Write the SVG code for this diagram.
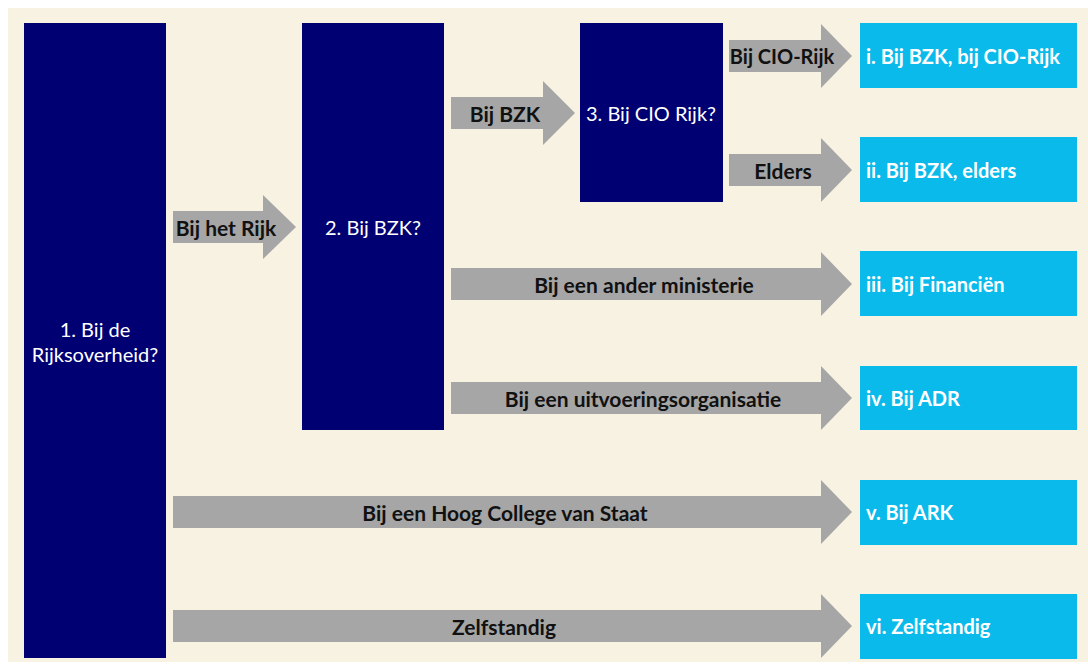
<svg xmlns="http://www.w3.org/2000/svg" width="1088" height="667" viewBox="0 0 1088 667">
<style>
.bg{fill:#F8F2E2}
.q{fill:#000072}
.o{fill:#0ABAEB}
.a{fill:#A6A6A6}
.qt{font-family:Lato,"Liberation Sans",sans-serif;font-size:20px;fill:#FFFFFF;text-anchor:middle;dominant-baseline:central}
.ot{font-family:Lato,"Liberation Sans",sans-serif;font-size:20px;font-weight:bold;fill:#FFFFFF;dominant-baseline:central}
.at{font-family:Lato,"Liberation Sans",sans-serif;font-size:21px;font-weight:bold;fill:#111111;text-anchor:middle;dominant-baseline:central}
</style>
<rect class="bg" x="8" y="8" width="1080" height="654"/>
<g id="q1"><rect class="q" x="24" y="23" width="142" height="635"/><text class="qt" x="95" y="329">1. Bij de</text><text class="qt" x="95" y="354">Rijksoverheid?</text></g>
<g id="q2"><rect class="q" x="302" y="23" width="142" height="407"/><text class="qt" x="373" y="227">2. Bij BZK?</text></g>
<g id="q3"><rect class="q" x="580" y="23" width="143" height="179"/><text class="qt" x="651" y="113">3. Bij CIO Rijk?</text></g>
<g id="r1"><rect class="o" x="860" y="23" width="217" height="65"/><text class="ot" x="866" y="56">i. Bij BZK, bij CIO-Rijk</text></g>
<g id="r2"><rect class="o" x="860" y="137" width="217" height="65"/><text class="ot" x="866" y="170">ii. Bij BZK, elders</text></g>
<g id="r3"><rect class="o" x="860" y="251" width="217" height="65"/><text class="ot" x="866" y="284">iii. Bij Financiën</text></g>
<g id="r4"><rect class="o" x="860" y="366" width="217" height="64"/><text class="ot" x="866" y="398">iv. Bij ADR</text></g>
<g id="r5"><rect class="o" x="860" y="480" width="217" height="65"/><text class="ot" x="866" y="512">v. Bij ARK</text></g>
<g id="r6"><rect class="o" x="860" y="594" width="217" height="65"/><text class="ot" x="866" y="626">vi. Zelfstandig</text></g>
<g id="connectors">
<polygon class="a" points="173,211 263,211 263,195 296,227 263,259 263,243 173,243"/>
<text class="at" x="226" y="227">Bij het Rijk</text>
<polygon class="a" points="451,97 543,97 543,81 575,113 543,145 543,129 451,129"/>
<text class="at" x="505" y="113">Bij BZK</text>
<polygon class="a" points="729,40 821,40 821,24 852,56 821,88 821,72 729,72"/>
<text class="at" x="782" y="56" style="font-size:20px">Bij CIO-Rijk</text>
<polygon class="a" points="729,154 821,154 821,138 852,170 821,202 821,186 729,186"/>
<text class="at" x="783" y="170">Elders</text>
<polygon class="a" points="451,268 821,268 821,252 852,284 821,316 821,300 451,300"/>
<text class="at" x="644" y="284">Bij een ander ministerie</text>
<polygon class="a" points="451,382 821,382 821,366 852,398 821,430 821,414 451,414"/>
<text class="at" x="643" y="398">Bij een uitvoeringsorganisatie</text>
<polygon class="a" points="173,496 821,496 821,480 852,512 821,544 821,528 173,528"/>
<text class="at" x="505" y="512">Bij een Hoog College van Staat</text>
<polygon class="a" points="173,610 821,610 821,594 852,626 821,658 821,642 173,642"/>
<text class="at" x="504" y="626">Zelfstandig</text>
</g>
</svg>
